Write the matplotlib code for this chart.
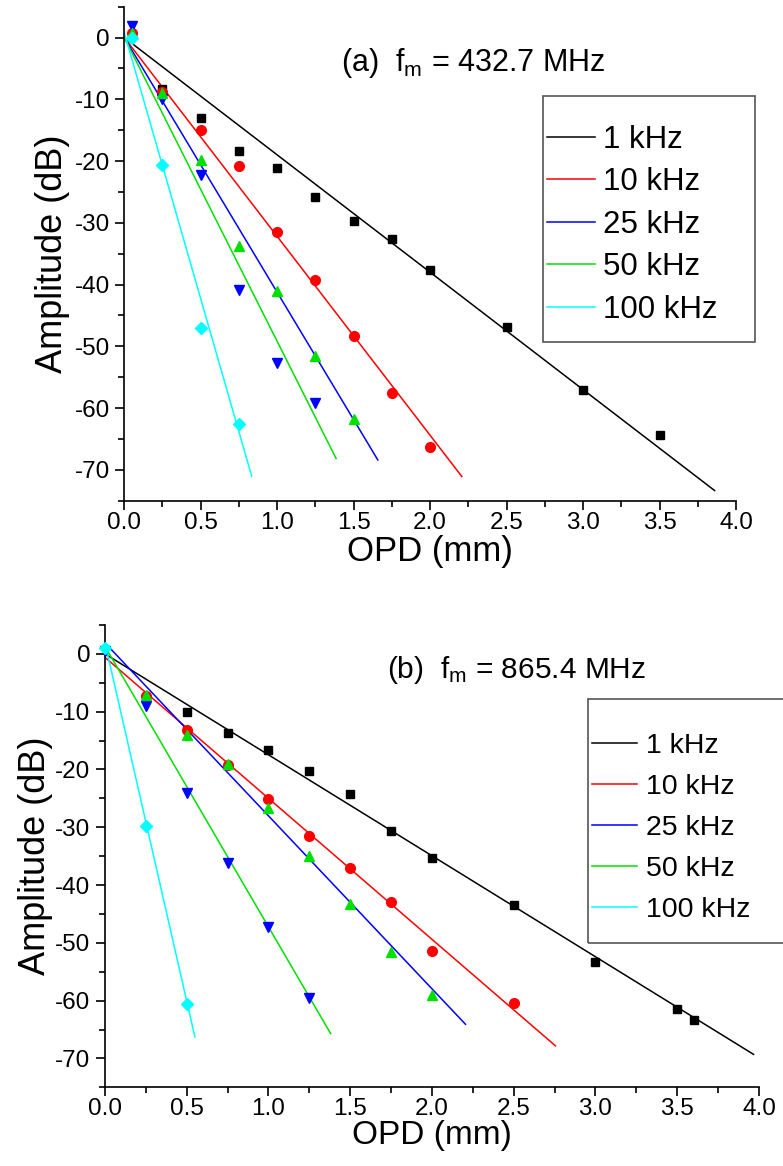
import numpy as np
import matplotlib
matplotlib.use('Agg')
import matplotlib.pyplot as plt
from matplotlib.ticker import MultipleLocator
from matplotlib.patches import Rectangle

plt.rcParams['font.family'] = ['Liberation Sans', 'DejaVu Sans']
plt.rcParams['mathtext.fontset'] = 'custom'
plt.rcParams['mathtext.rm'] = 'Liberation Sans'
plt.rcParams['mathtext.it'] = 'Liberation Sans:italic'
plt.rcParams['axes.unicode_minus'] = False

labels = ['1 kHz', '10 kHz', '25 kHz', '50 kHz', '100 kHz']
colors = ['#000000', '#FF0000', '#0000FF', '#00E000', '#00FFFF']
markers = ['s', 'o', 'v', '^', 'D']
msizes = [6, 7, 7.5, 7.5, 6]

# (a) fm = 432.7 MHz : measured points
a_x = [
    [0.25, 0.5, 0.75, 1.0, 1.25, 1.5, 1.75, 2.0, 2.5, 3.0, 3.5],
    [0.05, 0.25, 0.5, 0.75, 1.0, 1.25, 1.5, 1.75, 2.0],
    [0.05, 0.25, 0.5, 0.75, 1.0, 1.25],
    [0.05, 0.25, 0.5, 0.75, 1.0, 1.25, 1.5],
    [0.05, 0.25, 0.5, 0.75],
]
a_y = [
    [-8.4, -13.1, -18.4, -21.2, -25.8, -29.7, -32.6, -37.7, -46.9, -57.1, -64.4],
    [0.8, -8.8, -15.0, -20.8, -31.5, -39.3, -48.3, -57.5, -66.3],
    [1.8, -10.0, -22.2, -40.8, -52.7, -59.1],
    [0.8, -8.9, -19.9, -33.7, -41.0, -51.5, -61.7],
    [0.0, -20.6, -47.0, -62.6],
]
# linear fits (slope dB/mm, intercept dB, end of line mm)
a_slope = [-19.0, -32.2, -41.25, -49.2, -86.2]
a_icpt = [0.0, 0.0, 0.0, 0.0, 0.8]
a_xend = [3.86, 2.207, 1.658, 1.385, 0.833]

# (b) fm = 865.4 MHz
b_x = [
    [0.5, 0.75, 1.0, 1.25, 1.5, 1.75, 2.0, 2.5, 3.0, 3.5, 3.6],
    [0.25, 0.5, 0.75, 1.0, 1.25, 1.5, 1.75, 2.0, 2.5],
    [0.0, 0.25, 0.5, 0.75, 1.0, 1.25],
    [0.25, 0.5, 0.75, 1.0, 1.25, 1.5, 1.75, 2.0],
    [0.0, 0.25, 0.5],
]
b_y = [
    [-10.1, -13.7, -16.6, -20.3, -24.2, -30.6, -35.4, -43.5, -53.4, -61.4, -63.4],
    [-7.3, -13.1, -19.2, -25.1, -31.5, -37.1, -42.9, -51.5, -60.5],
    [0.5, -9.0, -24.1, -36.2, -47.2, -59.6],
    [-7.1, -14.0, -19.0, -26.7, -35.0, -43.2, -51.6, -59.0],
    [1.0, -29.8, -60.6],
]
b_slope = [-17.47, -24.4, -29.93, -48.55, -124.0]
b_icpt = [0.0, -0.6, 1.9, 1.3, 1.9]
b_xend = [3.967, 2.755, 2.205, 1.38, 0.55]

fig = plt.figure(figsize=(7.83, 11.66), dpi=100)
ax_a = fig.add_axes([0.1587, 0.5705, 0.7813, 0.4238])
ax_b = fig.add_axes([0.1341, 0.0675, 0.8352, 0.3965])


def draw(ax, xs, ys, slopes, icpts, xends):
    for i in range(5):
        xl = np.array([0.0, xends[i]])
        ax.plot(xl, icpts[i] + slopes[i] * xl, color=colors[i], lw=1.1,
                label=labels[i], zorder=2)
    for i in range(5):
        ax.plot(xs[i], ys[i], linestyle='none', marker=markers[i],
                ms=msizes[i], mfc=colors[i], mec=colors[i], zorder=3,
                clip_on=False)
    ax.set_xlim(0, 4)
    ax.set_ylim(-75, 5)
    ax.xaxis.set_major_locator(MultipleLocator(0.5))
    ax.xaxis.set_minor_locator(MultipleLocator(0.25))
    ax.yaxis.set_minor_locator(MultipleLocator(5))
    ax.set_yticks(np.arange(-70, 1, 10))
    ax.spines['top'].set_visible(False)
    ax.spines['right'].set_visible(False)
    for s in ['left', 'bottom']:
        ax.spines[s].set_linewidth(1.2)
    ax.tick_params(which='major', direction='out', length=6.5, width=1.2,
                   labelsize=17.5)
    ax.tick_params(axis='y', which='major', pad=4)
    ax.tick_params(axis='x', which='major', pad=1.5)
    ax.tick_params(which='minor', direction='out', length=4, width=1.2)
    ax.set_ylabel('Amplitude (dB)', fontsize=26)


draw(ax_a, a_x, a_y, a_slope, a_icpt, a_xend)
draw(ax_b, b_x, b_y, b_slope, b_icpt, b_xend)
ax_a.set_xlabel('OPD (mm)', fontsize=25, labelpad=0.5)
ax_b.set_xlabel('OPD (mm)', fontsize=24, labelpad=0)
ax_a.yaxis.set_label_coords(-0.088, 0.5)
ax_b.yaxis.set_label_coords(-0.080, 0.5)

fig.text(0.436, 0.9395, r'(a)  f$_\mathrm{m}$ = 432.7 MHz', fontsize=22,
         va='baseline', ha='left')
fig.text(0.494, 0.4185, r'(b)  f$_\mathrm{m}$ = 865.4 MHz', fontsize=21.5,
         va='baseline', ha='left')

# legend frames drawn as plain boxes, the entries placed inside them
fig.patches.append(Rectangle((543 / 783, 1 - 342 / 1166), 212 / 783,
                             246 / 1166, transform=fig.transFigure,
                             fill=False, ec='#555555', lw=1.2))
fig.patches.append(Rectangle((588 / 783, 1 - 943 / 1166), 220 / 783,
                             244 / 1166, transform=fig.transFigure,
                             fill=False, ec='#555555', lw=1.2))
ax_a.legend(loc='upper left', bbox_to_anchor=(0.6986, 0.8932),
            bbox_transform=fig.transFigure, fontsize=22.5, frameon=False,
            handlelength=1.55, handletextpad=0.25, labelspacing=0.40,
            borderpad=0, borderaxespad=0)
ax_b.legend(loc='upper left', bbox_to_anchor=(0.7557, 0.3710),
            bbox_transform=fig.transFigure, fontsize=20.5, frameon=False,
            handlelength=1.6, handletextpad=0.3, labelspacing=0.52,
            borderpad=0, borderaxespad=0)

fig.savefig('out.png', dpi=100)
